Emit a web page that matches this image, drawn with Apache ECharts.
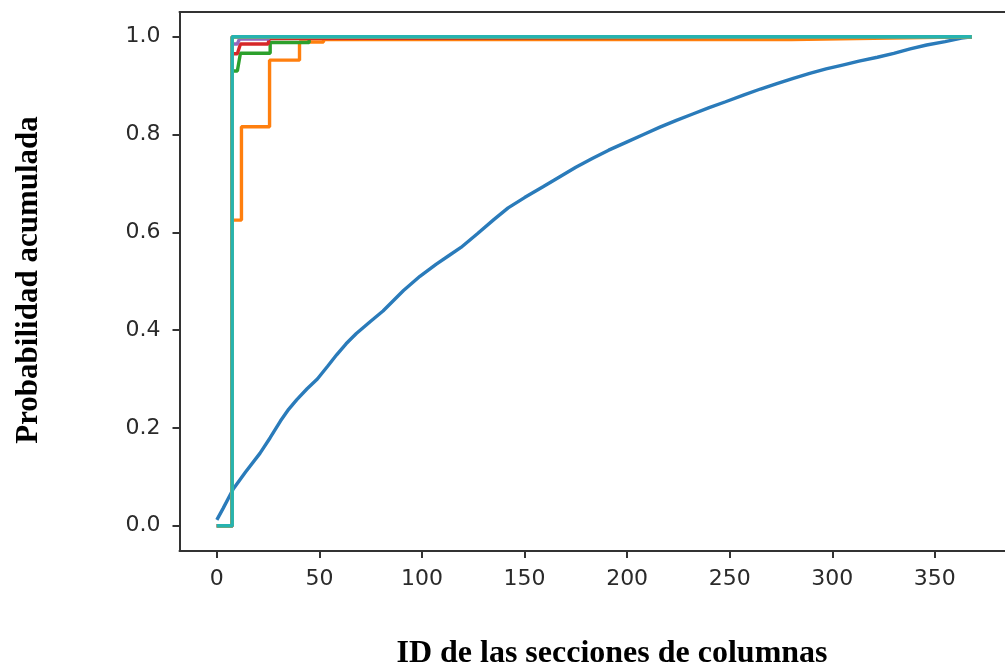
<!DOCTYPE html>
<html>
<head>
<meta charset="utf-8">
<script src="https://cdn.jsdelivr.net/npm/echarts@6/dist/echarts.min.js"></script>
<style>
  html, body { margin: 0; padding: 0; background: #fff; }
  #chart { width: 1005px; height: 669px; }
</style>
</head>
<body>
<div id="chart"></div>
<script>
// Tick positions
const xTicks = [0, 50, 100, 150, 200, 250, 300, 350];
const yTicks = [0, 0.2, 0.4, 0.6, 0.8, 1.0];

// Cumulative probability per column section ID, one array per curve: [id, prob]
const blueCdf = [
  [0, 0.012], [3, 0.035], [8, 0.075], [14, 0.11], [21, 0.148], [26, 0.18],
  [31, 0.214], [35, 0.238], [39, 0.258], [44, 0.28], [49, 0.3], [54, 0.326],
  [58.5, 0.35], [63, 0.372], [68, 0.393], [75, 0.418], [81, 0.439], [86, 0.46],
  [91, 0.481], [99, 0.51], [107, 0.535], [113, 0.552], [119, 0.569], [127, 0.597],
  [135, 0.626], [142, 0.65], [150, 0.671], [159, 0.693], [167, 0.713], [175, 0.733],
  [183, 0.751], [191, 0.768], [200, 0.785], [208, 0.8], [216, 0.815], [224, 0.829],
  [232, 0.842], [240, 0.855], [248, 0.867], [257, 0.881], [265, 0.893], [273, 0.904],
  [281, 0.915], [289, 0.925], [297, 0.934], [305, 0.942], [313, 0.95], [322, 0.958],
  [330, 0.966], [338, 0.975], [346, 0.983], [355, 0.99], [363, 0.997], [368, 1.0]
];
const orangeCdf = [
  [0, 0], [7.5, 0], [7.5, 0.625], [12, 0.625], [12, 0.816], [25.7, 0.816],
  [25.7, 0.952], [40.3, 0.952], [40.3, 0.989], [52, 0.989], [52, 0.994],
  [280, 0.994], [280, 0.998], [368, 1.0]
];
const greenCdf = [
  [0, 0], [7.5, 0], [7.5, 0.93], [10, 0.93], [11.5, 0.966], [26, 0.966],
  [26, 0.988], [45, 0.988], [45, 0.997], [368, 1.0]
];
const redCdf = [
  [0, 0], [7.5, 0], [7.5, 0.965], [10, 0.965], [11.5, 0.985], [25, 0.985],
  [25.5, 0.996], [368, 1.0]
];
const purpleCdf = [
  [0, 0], [7.5, 0], [7.5, 0.985], [10, 0.985], [11, 0.995], [25, 0.995],
  [25.5, 1.0], [368, 1.0]
];
const stepCdf = [
  [0, 0], [7.5, 0], [7.5, 1.0], [368, 1.0]
];

const curves = [
  { data: blueCdf, color: '#2a7bba' },
  { data: orangeCdf, color: '#ff7f0e' },
  { data: greenCdf, color: '#2ca02c' },
  { data: redCdf, color: '#d62728' },
  { data: purpleCdf, color: '#9467bd' },
  { data: stepCdf, color: '#8c564b' },
  { data: stepCdf, color: '#e377c2' },
  { data: stepCdf, color: '#7f7f7f' },
  { data: stepCdf, color: '#bcbd22' },
  { data: stepCdf, color: '#26b3b0' }
];

const spine = '#333';
const tickFont = { fontFamily: 'DejaVu Sans', fontSize: 22, color: '#2a2a2a' };

const chart = echarts.init(document.getElementById('chart'), null, { renderer: 'canvas' });

chart.setOption({
  animation: false,
  backgroundColor: '#fff',
  grid: { left: 179.5, right: 0, top: 12, bottom: 118, containLabel: false },
  xAxis: [
    {
      type: 'value', min: -18.2, max: 384.2, position: 'bottom',
      splitLine: { show: false },
      axisLine: { show: true, onZero: false, lineStyle: { color: spine, width: 2 } },
      axisTick: { show: true, length: 7, lineStyle: { color: spine, width: 2 }, customValues: xTicks },
      axisLabel: Object.assign({ margin: 17, customValues: xTicks }, tickFont)
    },
    {
      type: 'value', min: -18.2, max: 384.2, position: 'top',
      splitLine: { show: false },
      axisLine: { show: true, onZero: false, lineStyle: { color: spine, width: 2 } },
      axisTick: { show: false }, axisLabel: { show: false }
    }
  ],
  yAxis: {
    type: 'value', min: -0.0517, max: 1.0505,
    splitLine: { show: false },
    axisLine: { show: true, onZero: false, lineStyle: { color: spine, width: 2 } },
    axisTick: { show: true, length: 7, lineStyle: { color: spine, width: 2 }, customValues: yTicks },
    axisLabel: Object.assign({
      margin: 19, customValues: yTicks,
      formatter: v => v.toFixed(1)
    }, tickFont)
  },
  series: curves.map(c => ({
    type: 'line',
    data: c.data,
    xAxisIndex: 0,
    showSymbol: false,
    symbol: 'none',
    lineStyle: { color: c.color, width: 3.4 },
    itemStyle: { color: c.color },
    emphasis: { disabled: true }
  })),
  graphic: [
    {
      type: 'text', x: 612, y: 654,
      style: {
        text: 'ID de las secciones de columnas',
        font: 'bold 32px "Liberation Serif", "Times New Roman", serif',
        fill: '#000', align: 'center', verticalAlign: 'middle'
      }
    },
    {
      type: 'text', x: 29, y: 280, rotation: Math.PI / 2,
      style: {
        text: 'Probabilidad acumulada',
        font: 'bold 31px "Liberation Serif", "Times New Roman", serif',
        fill: '#000', align: 'center', verticalAlign: 'middle'
      }
    }
  ]
});
</script>
</body>
</html>
